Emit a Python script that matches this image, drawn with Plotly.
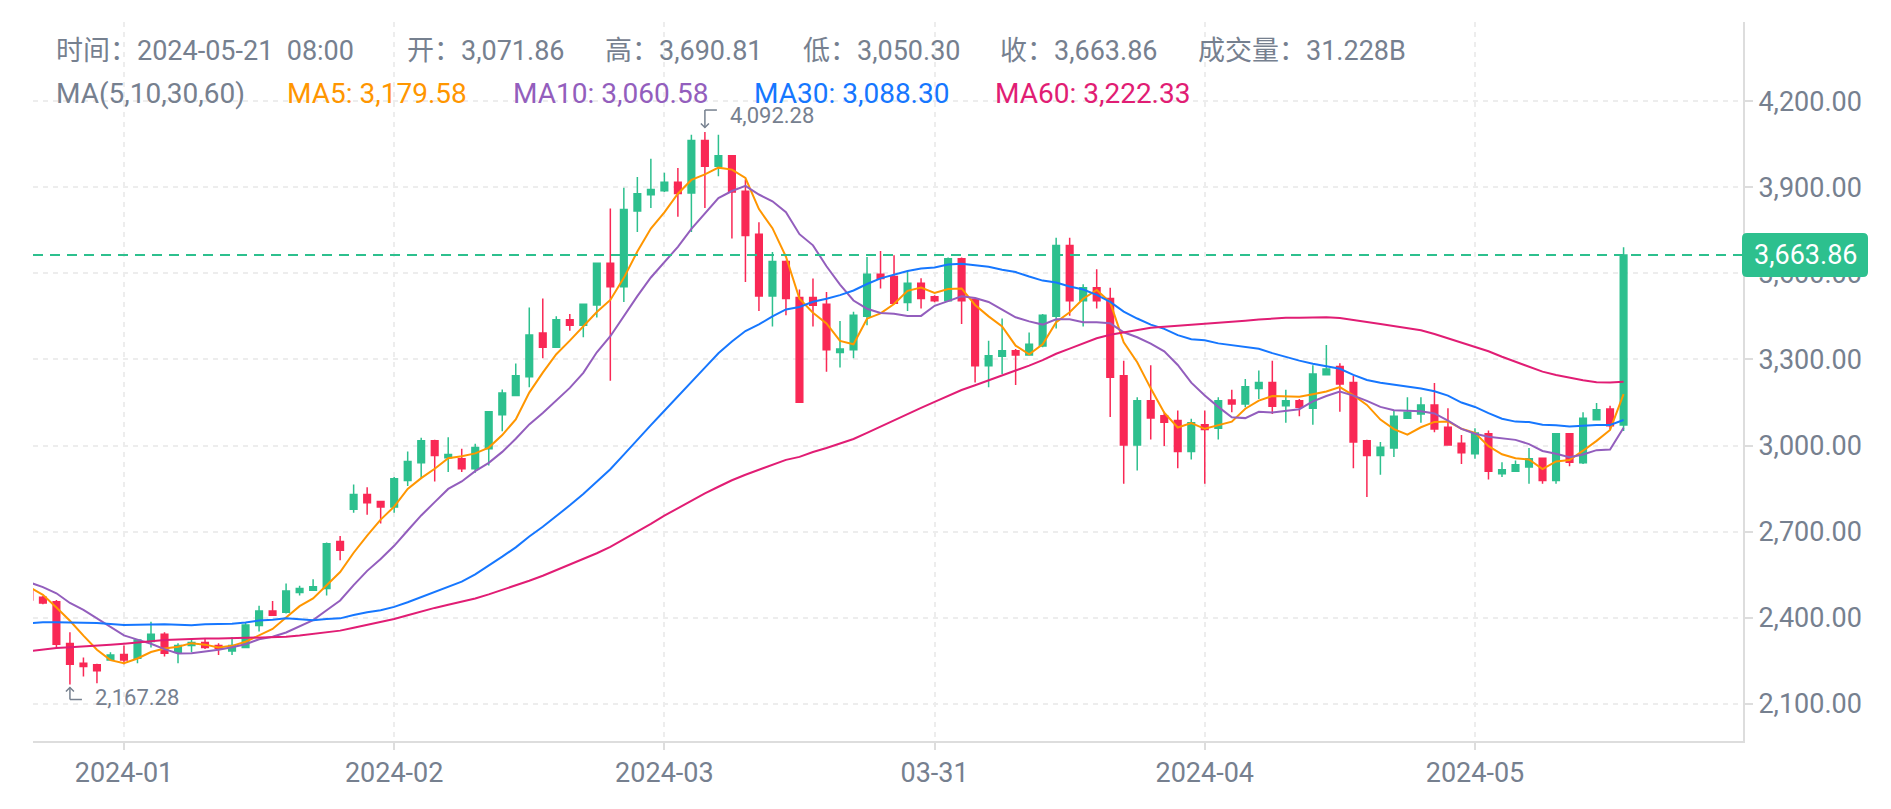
import numpy as np
import plotly.graph_objects as go

# ---------------- data ----------------
opens = [2495, 2471, 2456, 2310, 2241, 2236, 2253, 2272, 2259, 2317,
         2342, 2280, 2303, 2314, 2303, 2284, 2296, 2373, 2423, 2419,
         2488, 2496, 2502, 2666, 2778, 2829, 2805, 2786, 2878, 2940,
         3017, 2957, 2954, 2919, 2989, 3107, 3174, 3240, 3392, 3342,
         3438, 3419, 3490, 3635, 3553, 3817, 3874, 3888, 3917, 3880,
         4063, 3973, 4010, 3886, 3736, 3521, 3641, 3516, 3516, 3492,
         3324, 3334, 3450, 3597, 3589, 3498, 3565, 3518, 3504, 3651,
         3510, 3278, 3311, 3330, 3315, 3347, 3450, 3697, 3504, 3550,
         3512, 3243, 3002, 3156, 3104, 3087, 2979, 3072, 3060, 3159,
         3145, 3199, 3220, 3139, 3156, 3130, 3247, 3275, 3220, 3017,
         2965, 2991, 3095, 3110, 3141, 3064, 3008, 2971, 3041, 2902,
         2910, 2925, 2956, 2878, 3041, 2940, 3090, 3127, 3071.86]
highs = [2505, 2476, 2462, 2349, 2261, 2240, 2280, 2303, 2325, 2386,
         2349, 2311, 2322, 2328, 2311, 2332, 2383, 2442, 2458, 2519,
         2511, 2534, 2662, 2685, 2864, 2855, 2808, 2890, 2979, 3027,
         3020, 3029, 2989, 3006, 3120, 3195, 3286, 3481, 3512, 3450,
         3458, 3492, 3637, 3826, 3898, 3936, 3999, 3950, 3967, 4083,
         4092.28, 4083, 4012, 3927, 3778, 3674, 3645, 3544, 3582, 3535,
         3434, 3466, 3657, 3678, 3663, 3608, 3583, 3524, 3655, 3655,
         3512, 3365, 3443, 3336, 3394, 3458, 3724, 3724, 3562, 3614,
         3550, 3295, 3168, 3280, 3118, 3122, 3093, 3122, 3168, 3194,
         3232, 3261, 3295, 3194, 3162, 3280, 3350, 3287, 3243, 3020,
         3012, 3122, 3168, 3168, 3218, 3130, 3037, 3060, 3052, 2942,
         2948, 2991, 2958, 3041, 3043, 3116, 3148, 3139, 3690.81]
lows = [2452, 2447, 2296, 2167.28, 2195, 2172, 2250, 2238, 2241, 2296,
        2265, 2241, 2280, 2291, 2270, 2270, 2294, 2352, 2408, 2415,
        2477, 2494, 2477, 2600, 2766, 2759, 2728, 2766, 2859, 2884,
        2875, 2908, 2908, 2905, 2930, 3050, 3173, 3203, 3304, 3340,
        3400, 3377, 3446, 3226, 3500, 3744, 3828, 3883, 3797, 3744,
        3828, 3938, 3721, 3570, 3469, 3415, 3454, 3148, 3415, 3257,
        3272, 3304, 3419, 3547, 3494, 3469, 3477, 3499, 3500, 3423,
        3220, 3203, 3249, 3211, 3313, 3342, 3408, 3452, 3415, 3477,
        3099, 2867, 2913, 3021, 2998, 2921, 2951, 2867, 3021, 3116,
        3133, 3162, 3110, 3079, 3102, 3072, 3245, 3118, 2921, 2821,
        2898, 2960, 3093, 3079, 3046, 3000, 2936, 2954, 2882, 2890,
        2908, 2867, 2867, 2867, 2928, 2936, 3087, 3058, 3050.30]
closes = [2462, 2451, 2308, 2238, 2230, 2215, 2270, 2253, 2322, 2342,
          2276, 2303, 2314, 2296, 2294, 2303, 2375, 2423, 2409, 2493,
          2502, 2508, 2658, 2635, 2829, 2801, 2786, 2884, 2944, 3017,
          2965, 2969, 2919, 2993, 3118, 3183, 3243, 3385, 3342, 3438,
          3419, 3492, 3635, 3553, 3822, 3877, 3892, 3917, 3878, 4063,
          3973, 4010, 3883, 3732, 3521, 3641, 3512, 3151, 3489, 3334,
          3336, 3454, 3597, 3582, 3496, 3565, 3512, 3504, 3651, 3504,
          3278, 3313, 3330, 3315, 3353, 3454, 3697, 3504, 3550, 3504,
          3238, 3002, 3156, 3096, 3081, 2979, 3079, 3056, 3156, 3145,
          3205, 3220, 3137, 3156, 3133, 3249, 3267, 3214, 3012, 2965,
          2994, 3102, 3116, 3141, 3058, 3002, 2975, 3044, 2910, 2916,
          2933, 2954, 2878, 3041, 2942, 3095, 3125, 3069, 3663.86]
# closes before the first visible candle (needed for the moving averages)
prior_closes = [2063, 2063, 2081, 2084, 2062, 2027, 2048, 2028, 2051, 2087,
                2165, 2193, 2243, 2293, 2233, 2358, 2361, 2341, 2352, 2225,
                2202, 2260, 2314, 2220, 2228, 2196, 2217, 2177, 2200, 2240,
                2326, 2311, 2265, 2272, 2231, 2378, 2347, 2298, 2292, 2281,
                2352, 2355, 2209, 2268, 2268, 2240, 2221, 2330, 2344, 2585,
                2617, 2524, 2577, 2472, 2510, 2587, 2529, 2467, 2489]

ma_periods = [5, 10, 30, 60]
ma_values_shown = ["3,179.58", "3,060.58", "3,088.30", "3,222.33"]
tick_index = [7, 27, 47, 67, 87, 107]
tick_text = ["2024-01", "2024-02", "2024-03", "03-31", "2024-04", "2024-05"]
price_ticks = [2100, 2400, 2700, 3000, 3300, 3600, 3900, 4200]
last_time = "2024-05-21  08:00"
last_volume = "31.228B"

# ---------------- style ----------------
UP, DOWN = "#2DC08E", "#F92855"
MA_COLORS = ["#FF9600", "#935EBD", "#1677FF", "#E11D74"]
TXT = "#76808F"
GRID = "#EDEDED"
AXIS = "#DDDDDD"
FONT = "Roboto, 'Noto Sans CJK SC', sans-serif"

OFF = 8                                       # page body margin
W, H = 1891 - 2 * OFF, 809 - 2 * OFF
PL, PR, PT, PB = 33, 1743, 22, 743            # plot area, page pixels
X0PX, XSTEP = 29.4, 13.51                     # pixel of index 0, pixel per candle
Y3000, YSCALE = 446.7, 0.2878                 # pixel of 3000, pixel per unit

x_range = [(PL - X0PX) / XSTEP, (PR - X0PX) / XSTEP]
y_range = [3000 - (PB - Y3000) / YSCALE, 3000 + (Y3000 - PT) / YSCALE]


def px2paper_x(px):
    return (px - PL) / (PR - PL)


def px2paper_y(py):
    return (PB - py) / (PB - PT)


n = len(closes)
xs = list(range(n))
full_close = np.array(prior_closes + closes, dtype=float)
off = len(prior_closes)

fig = go.Figure()
fig.add_trace(go.Candlestick(
    x=xs, open=opens, high=highs, low=lows, close=closes,
    increasing=dict(line=dict(color=UP, width=1.5), fillcolor=UP),
    decreasing=dict(line=dict(color=DOWN, width=1.5), fillcolor=DOWN),
    whiskerwidth=0, showlegend=False, hoverinfo="skip"))

for p, c in zip(ma_periods, MA_COLORS):
    ma = [full_close[off + i - p + 1: off + i + 1].mean() for i in range(n)]
    fig.add_trace(go.Scatter(x=xs, y=ma, mode="lines",
                             line=dict(color=c, width=2), showlegend=False,
                             hoverinfo="skip"))

shapes = []
annotations = []

# last price line + label
last = closes[-1]
shapes.append(dict(type="line", xref="paper", yref="y", x0=0, x1=1, y0=last, y1=last,
                   line=dict(color=UP, width=2, dash="10px,7px")))
yc = px2paper_y(Y3000 - (last - 3000) * YSCALE)
hx0, hx1 = px2paper_x(1742), px2paper_x(1868)
hh = 22 / (PB - PT)
rx, ry = 5 / (PR - PL), 5 / (PB - PT)
y0b, y1b = yc - hh, yc + hh
path = (f"M {hx0 + rx},{y0b} L {hx1 - rx},{y0b} Q {hx1},{y0b} {hx1},{y0b + ry} "
        f"L {hx1},{y1b - ry} Q {hx1},{y1b} {hx1 - rx},{y1b} L {hx0 + rx},{y1b} "
        f"Q {hx0},{y1b} {hx0},{y1b - ry} L {hx0},{y0b + ry} Q {hx0},{y0b} {hx0 + rx},{y0b} Z")
shapes.append(dict(type="path", xref="paper", yref="paper", path=path,
                   fillcolor=UP, line=dict(width=0), layer="above"))
annotations.append(dict(xref="paper", yref="paper", x=(hx0 + hx1) / 2, y=yc,
                        text=f"{last:,.2f}", showarrow=False, xanchor="center",
                        yanchor="middle", font=dict(color="white", size=27, family=FONT)))

# highest / lowest marks
hi = int(np.argmax(highs))
lo = int(np.argmin(lows))
for idx, val, sgn in [(hi, highs[hi], 1), (lo, lows[lo], -1)]:
    tip, top = (4.5, 22) if sgn > 0 else (-3, -15)
    common = dict(xref="x", yref="y", xsizemode="pixel", xanchor=idx,
                  ysizemode="pixel", yanchor=val, line=dict(color=TXT, width=1.5))
    shapes.append(dict(type="line", x0=0, x1=0, y0=tip, y1=top, **common))
    shapes.append(dict(type="line", x0=0, x1=12, y0=top, y1=top, **common))
    shapes.append(dict(type="path", path=f"M -4,{tip + sgn * 4} L 0,{tip} L 4,{tip + sgn * 4}",
                       **common))
    annotations.append(dict(xref="x", yref="y", x=idx, y=val, xshift=23,
                            yshift=17 if sgn > 0 else -13, text=f"{val:,.2f}",
                            showarrow=False, xanchor="left", yanchor="middle",
                            font=dict(color=TXT, size=22, family=FONT)))

# header tooltip rows
row1 = [(54, f"时间：{last_time}"), (405, f"开：{opens[-1]:,.2f}"),
        (603, f"高：{highs[-1]:,.2f}"), (801, f"低：{lows[-1]:,.2f}"),
        (998, f"收：{closes[-1]:,.2f}"), (1196, f"成交量：{last_volume}")]
for px, t in row1:
    annotations.append(dict(xref="paper", yref="paper", x=px2paper_x(px), y=px2paper_y(51),
                            text=t, showarrow=False, xanchor="left", yanchor="middle",
                            font=dict(color=TXT, size=27, family=FONT)))
row2 = [(54, "MA(" + ",".join(str(p) for p in ma_periods) + ")", TXT)]
for px, p, v, c in zip([285, 511, 752, 993], ma_periods, ma_values_shown, MA_COLORS):
    row2.append((px, f"MA{p}: {v}", c))
for px, t, c in row2:
    annotations.append(dict(xref="paper", yref="paper", x=px2paper_x(px), y=px2paper_y(94),
                            text=t, showarrow=False, xanchor="left", yanchor="middle",
                            font=dict(color=c, size=28, family=FONT)))

fig.update_layout(
    width=W, height=H,
    margin=dict(l=PL - OFF, r=(OFF + W) - PR, t=PT - OFF, b=(OFF + H) - PB, pad=0),
    paper_bgcolor="white", plot_bgcolor="white",
    font=dict(family=FONT, color=TXT, size=27),
    shapes=shapes, annotations=annotations,
    showlegend=False, hovermode=False,
    xaxis=dict(range=x_range, rangeslider=dict(visible=False),
               tickmode="array", tickvals=tick_index, ticktext=tick_text,
               showgrid=True, gridcolor=GRID, griddash="5px,5px", gridwidth=1.5,
               showline=True, linecolor=AXIS, linewidth=2,
               ticks="outside", ticklen=7, tickcolor=AXIS, tickwidth=1.5,
               tickfont=dict(size=27, color=TXT, family=FONT), zeroline=False),
    yaxis=dict(range=y_range, side="right", tickmode="array", tickvals=price_ticks,
               tickformat=",.2f", showgrid=True, gridcolor=GRID, griddash="5px,5px",
               gridwidth=1.5, showline=True, linecolor=AXIS, linewidth=2,
               ticks="outside", ticklen=8, tickcolor=AXIS, tickwidth=1.5,
               tickfont=dict(size=27, color=TXT, family=FONT), zeroline=False),
)

fig.write_html("out.html")
